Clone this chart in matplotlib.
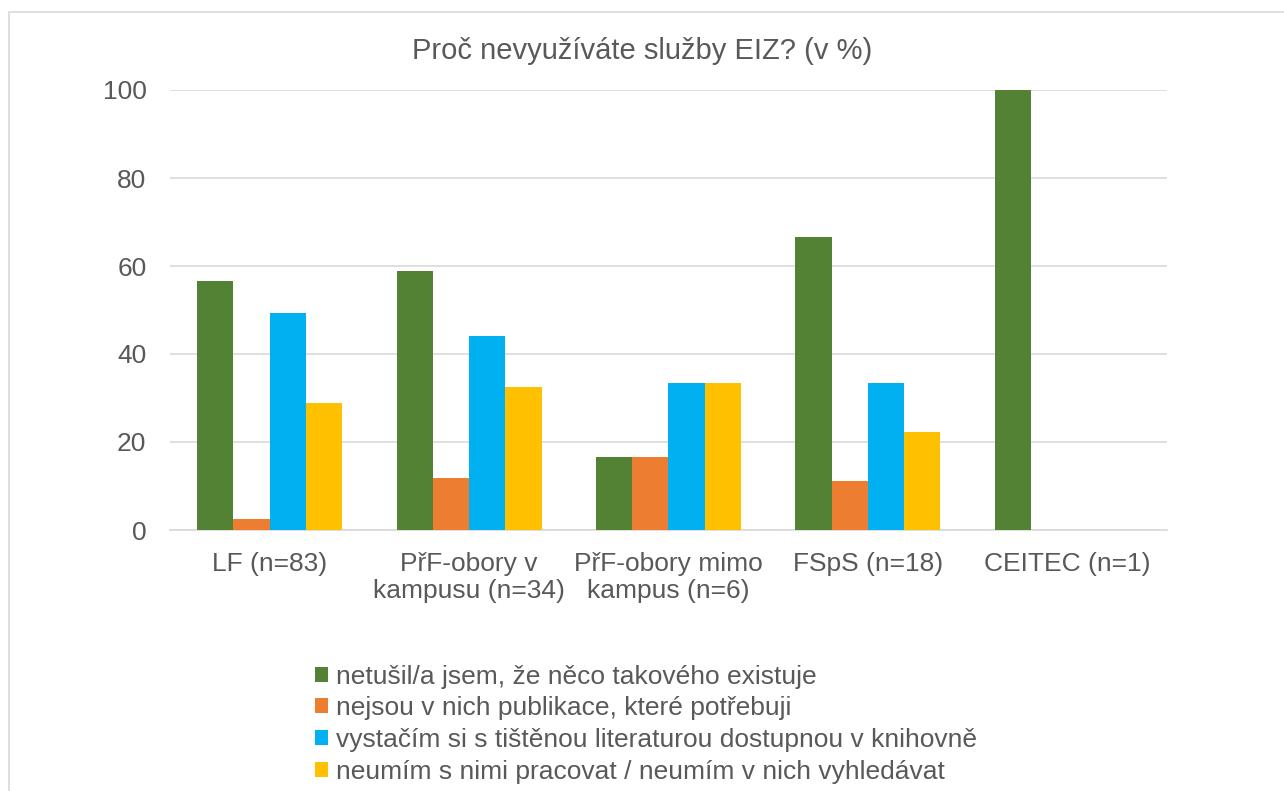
import numpy as np
import matplotlib.pyplot as plt
from matplotlib.patches import Rectangle

plt.rcParams['font.family'] = ['Liberation Sans', 'DejaVu Sans']

# data (percent)
categories = ['LF (n=83)', 'PřF-obory v\nkampusu (n=34)', 'PřF-obory mimo\nkampus (n=6)',
              'FSpS (n=18)', 'CEITEC (n=1)']
series_names = ['netušil/a jsem, že něco takového existuje',
                'nejsou v nich publikace, které potřebuji',
                'vystačím si s tištěnou literaturou dostupnou v knihovně',
                'neumím s nimi pracovat / neumím v nich vyhledávat']
netusil = [56.6, 58.8, 16.7, 66.7, 100.0]
nejsou = [2.4, 11.8, 16.7, 11.1, 0.0]
vystacim = [49.4, 44.1, 33.3, 33.3, 0.0]
neumim = [28.9, 32.4, 33.3, 22.2, 0.0]
yticks = [0, 20, 40, 60, 80, 100]

colors_list = ['#548235', '#ED7D31', '#00B0F0', '#FFC000']
txt = '#595959'

fig = plt.figure(figsize=(12.84, 7.91), dpi=100)
ax = fig.add_axes([170/1284, 1 - 530/791, 997/1284, 440/791])

# outer chart border (only left and top visible in the crop)
fig.patches.append(Rectangle((9/1284, -0.1), 1.2, 1 - 12/791 + 0.1,
                             transform=fig.transFigure, fill=False,
                             edgecolor='#d9d9d9', linewidth=1.2))

x = np.arange(len(categories))
w = 0.182
all_series = [netusil, nejsou, vystacim, neumim]
for i, vals in enumerate(all_series):
    ax.bar(x + (i - 1.5) * w, vals, w, color=colors_list[i], label=series_names[i], zorder=3)

ax.set_xlim(-0.5, len(categories) - 0.5)
ax.set_ylim(0, 100)
ax.set_yticks(yticks)
ax.set_xticks(x)
ax.set_xticklabels(categories, linespacing=1.15)
ax.yaxis.grid(True, color='#d9d9d9', linewidth=1.2, zorder=0)
for s in ['top', 'right', 'left']:
    ax.spines[s].set_visible(False)
ax.spines['bottom'].set_color('#d9d9d9')
ax.spines['bottom'].set_linewidth(1.2)
ax.tick_params(axis='both', length=0, labelsize=19, colors=txt)
ax.tick_params(axis='x', pad=16)
ax.tick_params(axis='y', pad=17)

fig.text(0.5, 1 - 51/791, 'Proč nevyužíváte služby EIZ? (v %)', ha='center', va='center',
         fontsize=21, color=txt)

leg = fig.legend(loc='upper left', bbox_to_anchor=(304/1284, 1 - 654/791), frameon=False,
                 fontsize=19, labelcolor=txt, handlelength=0.5, handleheight=0.5,
                 handletextpad=0.3, labelspacing=0.29, borderaxespad=0)

fig.savefig('out.png', dpi=100)
